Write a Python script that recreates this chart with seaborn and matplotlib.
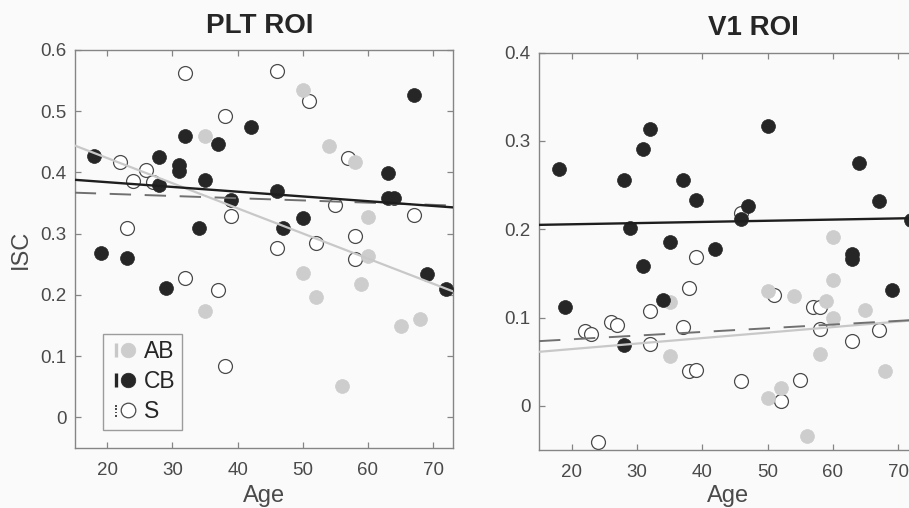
import numpy as np
import pandas as pd
import seaborn as sns
import matplotlib
matplotlib.use("Agg")
import matplotlib.pyplot as plt
from matplotlib.lines import Line2D
from matplotlib.legend_handler import HandlerTuple
from matplotlib.path import Path

# ---------------- data ----------------
groups = ["AB", "CB", "S"]

# PLT ROI
plt_ab_age = [35, 35, 50, 50, 52, 54, 56, 58, 59, 60, 60, 65, 68]
plt_ab_isc = [0.460, 0.174, 0.535, 0.236, 0.196, 0.444, 0.052, 0.417, 0.218, 0.327, 0.263, 0.150, 0.160]
plt_cb_age = [18, 19, 23, 28, 28, 29, 31, 31, 32, 34, 35, 37, 39, 42, 46, 47, 50, 63, 63, 64, 67, 69, 72]
plt_cb_isc = [0.427, 0.268, 0.260, 0.426, 0.379, 0.212, 0.412, 0.403, 0.460, 0.309, 0.388, 0.446, 0.355,
              0.475, 0.369, 0.310, 0.325, 0.399, 0.359, 0.359, 0.527, 0.234, 0.209]
plt_s_age = [22, 23, 24, 26, 27, 32, 32, 37, 38, 38, 39, 46, 46, 51, 52, 55, 57, 58, 58, 67]
plt_s_isc = [0.417, 0.309, 0.386, 0.404, 0.384, 0.563, 0.228, 0.208, 0.493, 0.084, 0.329, 0.565, 0.277,
             0.516, 0.284, 0.347, 0.423, 0.296, 0.258, 0.330]
plt_fit_age = [15, 73]
plt_fit_ab = [0.444, 0.206]
plt_fit_cb = [0.388, 0.343]
plt_fit_s = [0.367, 0.346]

# V1 ROI
v1_ab_age = [35, 35, 50, 50, 52, 54, 56, 58, 59, 60, 60, 60, 65, 68]
v1_ab_isc = [0.118, 0.056, 0.130, 0.009, 0.020, 0.124, -0.034, 0.059, 0.119, 0.191, 0.143, 0.100, 0.109, 0.040]
v1_cb_age = [18, 19, 28, 28, 29, 31, 31, 32, 34, 35, 37, 39, 42, 46, 47, 50, 63, 63, 64, 67, 69, 72]
v1_cb_isc = [0.268, 0.112, 0.256, 0.069, 0.202, 0.291, 0.158, 0.314, 0.120, 0.186, 0.256, 0.233, 0.178,
             0.212, 0.226, 0.317, 0.172, 0.166, 0.275, 0.232, 0.131, 0.210]
v1_s_age = [22, 23, 24, 26, 27, 32, 32, 37, 38, 38, 39, 39, 46, 46, 51, 52, 55, 57, 58, 58, 63, 67]
v1_s_isc = [0.085, 0.081, -0.041, 0.095, 0.092, 0.108, 0.070, 0.089, 0.134, 0.039, 0.169, 0.041, 0.218,
            0.028, 0.126, 0.005, 0.029, 0.112, 0.112, 0.087, 0.073, 0.086]
v1_fit_age = [15, 73]
v1_fit_ab = [0.0612, 0.0973]
v1_fit_cb = [0.205, 0.2127]
v1_fit_s = [0.0733, 0.0975]

plt_yticks = [0, 0.1, 0.2, 0.3, 0.4, 0.5, 0.6]
plt_yticklabels = ["0", "0.1", "0.2", "0.3", "0.4", "0.5", "0.6"]
v1_yticks = [0, 0.1, 0.2, 0.3, 0.4]
v1_yticklabels = ["0", "0.1", "0.2", "0.3", "0.4"]
xticks = [20, 30, 40, 50, 60, 70]
xticklabels = ["20", "30", "40", "50", "60", "70"]


def make_df(ab_a, ab_v, cb_a, cb_v, s_a, s_v):
    return pd.DataFrame({
        "age": ab_a + cb_a + s_a,
        "isc": ab_v + cb_v + s_v,
        "group": ["AB"] * len(ab_a) + ["CB"] * len(cb_a) + ["S"] * len(s_a),
    })


plt_df = make_df(plt_ab_age, plt_ab_isc, plt_cb_age, plt_cb_isc, plt_s_age, plt_s_isc)
v1_df = make_df(v1_ab_age, v1_ab_isc, v1_cb_age, v1_cb_isc, v1_s_age, v1_s_isc)

# ---------------- style ----------------
sns.set_theme(style="white")
plt.rcParams['font.family'] = ['Liberation Sans', 'DejaVu Sans']

BG = '#fafafa'
AB_C = '#cdcdcd'
CB_C = '#262626'
S_EDGE = '#4a4a4a'
SPINE = '#858585'
TXT = '#4a4a4a'

fig = plt.figure(figsize=(9.09, 5.08), dpi=100, facecolor=BG)
ax1 = fig.add_axes([74.7 / 909, 60 / 508, 378 / 909, 398 / 508])
ax2 = fig.add_axes([539 / 909, 58 / 508, 378.7 / 909, 397.3 / 508])


def draw(ax, df, fit_age, fits, ylim, yticks, yticklabels, title, title_x, xlabelpad):
    ax.set_facecolor(BG)
    d = df[df.group == "S"]
    sns.scatterplot(data=d, x="age", y="isc", ax=ax, s=100, color="white",
                    edgecolor=S_EDGE, linewidth=0.9, zorder=2, legend=False)
    d = df[df.group == "AB"]
    sns.scatterplot(data=d, x="age", y="isc", ax=ax, s=100, color=AB_C,
                    edgecolor=AB_C, linewidth=0.5, zorder=3, legend=False)
    d = df[df.group == "CB"]
    sns.scatterplot(data=d, x="age", y="isc", ax=ax, s=100, color=CB_C,
                    edgecolor=CB_C, linewidth=0.5, zorder=4, legend=False)

    sns.lineplot(x=fit_age, y=fits[0], ax=ax, color='#c8c8c8', lw=1.6, zorder=5)
    sns.lineplot(x=fit_age, y=fits[1], ax=ax, color='#1e1e1e', lw=1.7, zorder=6)
    sns.lineplot(x=fit_age, y=fits[2], ax=ax, color='#707070', lw=1.4, zorder=5,
                 linestyle=(0, (11, 7)))

    ax.set_xlim(15, 73)
    ax.set_ylim(*ylim)
    ax.set_xticks(xticks)
    ax.set_xticklabels(xticklabels)
    ax.set_yticks(yticks)
    ax.set_yticklabels(yticklabels)
    ax.tick_params(direction='in', length=4, width=0.9, color=SPINE,
                   top=True, right=True, bottom=True, left=True,
                   labelsize=13.5, labelcolor=TXT)
    ax.tick_params(axis='x', pad=10)
    ax.tick_params(axis='y', pad=6)
    for sp in ax.spines.values():
        sp.set_visible(True)
        sp.set_color(SPINE)
        sp.set_linewidth(1.0)
    ax.set_xlabel("Age", fontsize=17, color=TXT, labelpad=xlabelpad)
    ax.set_ylabel("")
    ax.set_title(title, fontsize=20, fontweight='bold', color='#262626', pad=12.5, x=title_x)


draw(ax1, plt_df, plt_fit_age, (plt_fit_ab, plt_fit_cb, plt_fit_s), (-0.05, 0.6),
     plt_yticks, plt_yticklabels, "PLT ROI", 0.49, 4.5)
draw(ax2, v1_df, v1_fit_age, (v1_fit_ab, v1_fit_cb, v1_fit_s), (-0.05, 0.4),
     v1_yticks, v1_yticklabels, "V1 ROI", 0.565, 3.0)

ax1.set_ylabel("ISC", fontsize=17, color=TXT, labelpad=6)

# ---------------- legend ----------------
dot_verts, dot_codes = [], []
for y0 in [-0.5, -0.25, 0.0, 0.25]:
    dot_verts += [(0, y0), (0, y0 + 0.13)]
    dot_codes += [Path.MOVETO, Path.LINETO]
dotted_bar = Path(dot_verts, dot_codes)


def bar(color, marker='|'):
    return Line2D([], [], ls='none', marker=marker, ms=9.5, mew=2.4,
                  color=color, markerfacecolor='none', markeredgecolor=color)


def dot(face, edge, mew=0.5):
    return Line2D([], [], ls='none', marker='o', ms=10.5, markerfacecolor=face,
                  markeredgecolor=edge, mew=mew)


handles = [
    (bar('#c8c8c8'), dot(AB_C, AB_C)),
    (bar(CB_C), dot(CB_C, CB_C)),
    (Line2D([], [], ls='none', marker=dotted_bar, ms=10, mew=1.4, color=S_EDGE,
            markerfacecolor='none', markeredgecolor=S_EDGE), dot('white', S_EDGE, 0.9)),
]
leg = ax1.legend(handles, groups, handler_map={tuple: HandlerTuple(ndivide=None, pad=0)},
                 loc='lower left', bbox_to_anchor=(0.074, 0.045), borderaxespad=0,
                 fontsize=16.5, handlelength=1.05, handletextpad=0.45, borderpad=0.3,
                 labelspacing=0.3, frameon=True, fancybox=False)
leg.get_frame().set_edgecolor(SPINE)
leg.get_frame().set_facecolor(BG)
leg.get_frame().set_linewidth(1.0)
for t in leg.get_texts():
    t.set_color('#262626')

fig.savefig("out.png", dpi=100, facecolor=BG)
